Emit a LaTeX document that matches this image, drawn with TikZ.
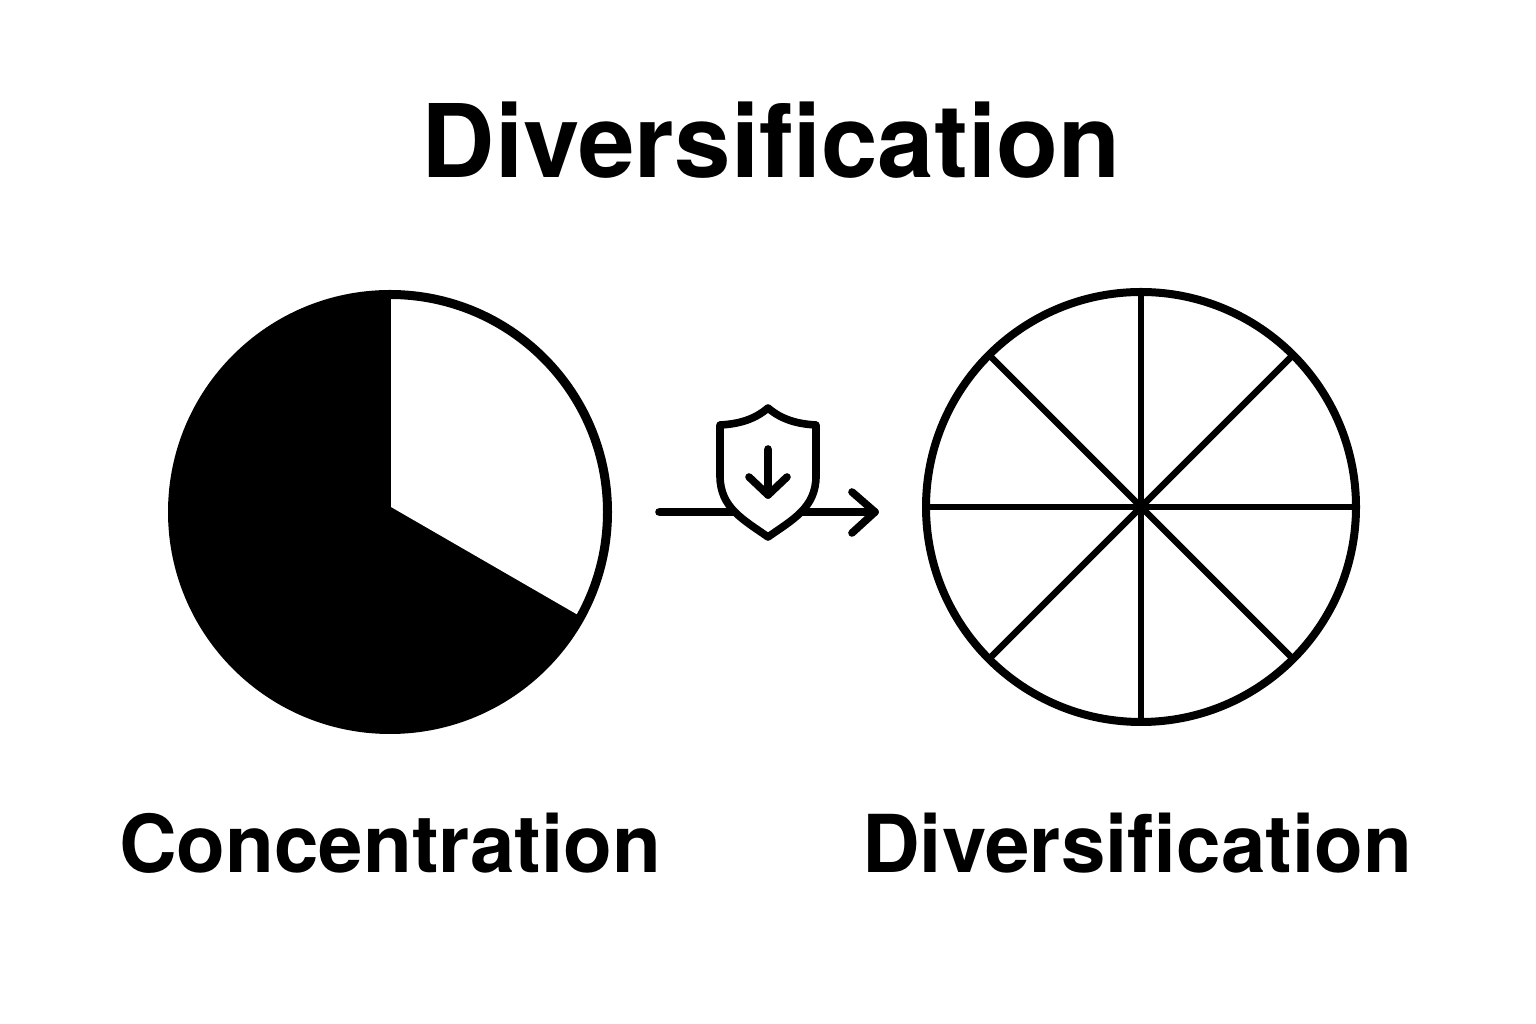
\documentclass[tikz,border=0pt]{standalone}
\usepackage{fontspec}
\setmainfont{TeX Gyre Heros}
\usetikzlibrary{calc}
\tikzset{
  ring/.style={line width=0.225cm},
  spoke/.style={line width=0.16cm, line cap=round},
  stroke/.style={line width=0.19cm, line cap=round, line join=round},
  bigtitle/.style={font=\fontsize{72.2}{80}\selectfont\bfseries, inner sep=0pt},
  pielabel/.style={font=\fontsize{56.8}{64}\selectfont\bfseries, inner sep=0pt}
}
\begin{document}
\begin{tikzpicture}[x=0.025cm, y=0.025cm]
  \useasboundingbox (0, 0) rectangle (1536, 1024);
  \pgfmathsetmacro{\rl}{217.5}
  \pgfmathsetmacro{\rr}{215}
  \coordinate (leftc) at (390, 512);
  \coordinate (rightc) at (1141, 517);

  \node[bigtitle] (title) at (771, 884) {Diversification};

  % concentrated pie
  \fill (leftc) circle (\rl);
  \fill[white] (391, 517) -- ++(0, \rl) arc (90:-30:\rl) -- cycle;
  \draw[ring] (leftc) circle (\rl);

  % eight slices
  \foreach \a in {0, 45, ..., 315} {
    \coordinate (rim\a) at ($(rightc) + (\a:\rr)$);
    \draw[spoke] (rightc) -- (rim\a);
  }
  \draw[ring, line width=0.2cm] (rightc) circle (\rr);

  % arrow and shield
  \coordinate (arrowtail) at (659, 512);
  \coordinate (arrowtip) at (875, 512);
  \draw[stroke] (arrowtail) -- (arrowtip) -- ++(-23, 20);
  \draw[stroke] (arrowtip) -- ++(-23, -21);
  \draw[stroke, fill=white] (768, 616) .. controls (754, 604) and (738, 600) .. (720, 599)
    -- (720, 548) .. controls (720, 516) and (744, 504) .. (768, 487)
    .. controls (792, 504) and (816, 516) .. (816, 548)
    -- (816, 599) .. controls (798, 600) and (782, 604) .. (768, 616) -- cycle;
  \coordinate (shieldtop) at (768, 575);
  \coordinate (shieldtip) at (768, 529);
  \draw[stroke] (shieldtop) -- (shieldtip) -- ++(-19, 18);
  \draw[stroke] (shieldtip) -- ++(19, 18);

  \node[pielabel] (conc) at (390, 181) {Concentration};
  \node[pielabel] (divers) at (1137, 181) {Diversification};
\end{tikzpicture}
\end{document}
